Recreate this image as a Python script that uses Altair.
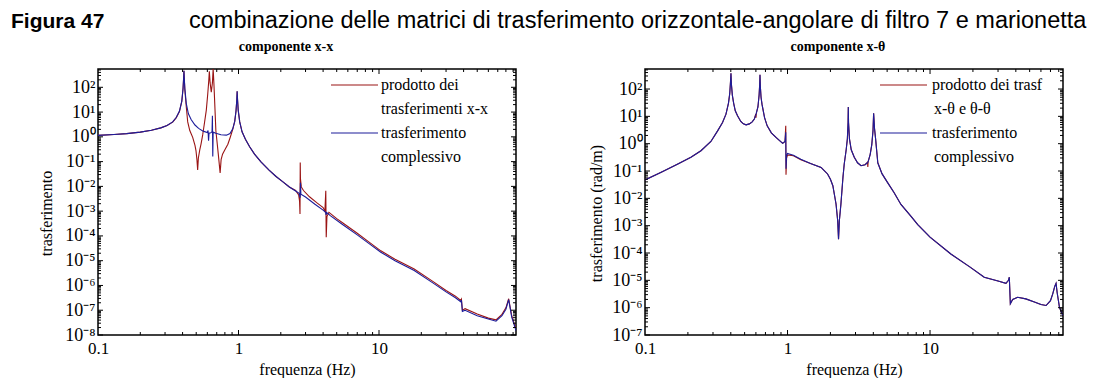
import altair as alt
import pandas as pd

# ---------------- data ----------------
# left panel: componente x-x
L_BLUE_F = [0.1, 0.13, 0.16, 0.2, 0.24, 0.28, 0.31, 0.34, 0.36, 0.38, 0.395, 0.403, 0.407, 0.409, 0.411,
            0.415, 0.425, 0.44, 0.46, 0.49, 0.52, 0.56, 0.6, 0.607, 0.612, 0.617, 0.635, 0.648, 0.652,
            0.656, 0.66, 0.69, 0.75, 0.82, 0.87, 0.91, 0.94, 0.96, 0.972, 0.978, 0.985, 0.995, 1.02,
            1.06, 1.12, 1.2, 1.3, 1.45, 1.65, 1.85, 2.05, 2.3, 2.55, 2.7, 2.745, 2.76, 2.78, 3.0, 3.5,
            4.0, 4.17, 4.2, 4.24, 4.5, 5.5, 7.0, 8.5, 10.3, 13, 17.8, 24, 30, 35, 38.2, 38.6, 39.2, 41,
            50, 60, 68, 75, 80, 83.7, 88, 94.4]
L_BLUE_V = [1.15, 1.25, 1.35, 1.55, 1.85, 2.3, 2.9, 4.0, 6.0, 11, 28, 90, 250, 470, 250,
            90, 22, 8.5, 5.0, 3.0, 2.2, 1.7, 1.5, 1.8, 0.7, 1.4, 1.45, 1.6, 7.1,
            0.16, 1.55, 1.4, 1.22, 1.17, 1.35, 2.1, 4.2, 11, 30, 69, 30, 12, 4,
            1.6, 0.8, 0.4, 0.2, 0.095, 0.045, 0.025, 0.016, 0.0095, 0.0065, 0.0052, 0.0035, 0.014, 0.0048, 0.0037, 0.0019,
            0.0011, 0.0009, 0.0007, 0.00088, 0.00066, 0.00029, 0.00011, 4.9e-5, 2.2e-5, 1.0e-5, 4.0e-6, 1.3e-6, 5.5e-7, 3.2e-7, 2.2e-7, 2.6e-7, 9e-8, 1.0e-7,
            6e-8, 4.4e-8, 3.6e-8, 6e-8, 1.1e-7, 2.7e-7, 5.3e-8, 1.5e-8]

L_RED_F = [0.1, 0.13, 0.16, 0.2, 0.24, 0.28, 0.31, 0.34, 0.36, 0.38, 0.395, 0.403, 0.407, 0.409, 0.411,
           0.415, 0.425, 0.435, 0.45, 0.472, 0.49, 0.498, 0.506, 0.512, 0.518, 0.53, 0.541, 0.556, 0.571,
           0.59, 0.604, 0.614, 0.62, 0.628, 0.64, 0.652, 0.66, 0.668, 0.678, 0.69, 0.705, 0.718, 0.74,
           0.752, 0.77, 0.8, 0.84, 0.87, 0.91, 0.94, 0.96, 0.972, 0.978, 0.985, 0.995, 1.02, 1.06, 1.12,
           1.2, 1.3, 1.45, 1.65, 1.85, 2.05, 2.3, 2.55, 2.68, 2.72, 2.74, 2.75, 2.76, 2.8, 2.9, 3.2, 3.6,
           4.0, 4.12, 4.18, 4.21, 4.26, 4.4, 5.0, 5.5, 7.0, 8.5, 10.3, 13, 17.8, 24, 30, 35, 38.2, 38.6,
           39.2, 41, 50, 60, 68, 75, 80, 83.7, 88, 94.4]
L_RED_V = [1.15, 1.25, 1.35, 1.55, 1.85, 2.3, 2.85, 3.9, 5.8, 10.5, 27, 90, 250, 470, 250,
           80, 16, 4, 1.8, 0.95, 0.45, 0.28, 0.12, 0.046, 0.14, 0.3, 0.51, 1.2, 3.3,
           12, 54, 180, 440, 150, 63, 150, 560, 150, 20, 1.8, 0.55, 0.2, 0.035,
           0.12, 0.2, 0.3, 0.5, 0.9, 2.0, 4.2, 11, 30, 69, 30, 12, 4, 1.6, 0.8,
           0.4, 0.2, 0.095, 0.045, 0.025, 0.016, 0.0095, 0.0068, 0.0045, 0.0025, 0.00077, 0.093, 0.02, 0.0095, 0.0068, 0.0038, 0.0022,
           0.0014, 0.001, 0.0067, 8.8e-5, 0.0006, 0.0009, 0.0005, 0.00034, 0.000128, 5.6e-5, 2.5e-5, 1.15e-5, 4.6e-6, 1.5e-6, 6.3e-7, 3.7e-7, 2.5e-7, 2.8e-7,
           1.0e-7, 1.15e-7, 7e-8, 4.8e-8, 4.1e-8, 6.8e-8, 1.25e-7, 2.9e-7, 6e-8, 1.7e-8]

# right panel: componente x-theta
R_BLUE_F = [0.1, 0.13, 0.17, 0.21, 0.247, 0.29, 0.324, 0.35, 0.37, 0.385, 0.393, 0.398, 0.401, 0.404,
            0.41, 0.419, 0.43, 0.446, 0.47, 0.49, 0.512, 0.54, 0.565, 0.585, 0.598, 0.601, 0.604, 0.62,
            0.632, 0.638, 0.641, 0.645, 0.652, 0.662, 0.69, 0.72, 0.77, 0.83, 0.88, 0.925, 0.96, 0.972,
            0.976, 0.985, 1.0, 1.03, 1.1, 1.24, 1.45, 1.72, 1.91, 2.0, 2.08, 2.19, 2.25, 2.28, 2.31,
            2.37, 2.45, 2.5, 2.58, 2.63, 2.66, 2.67, 2.68, 2.72, 2.8, 2.94, 3.1, 3.28, 3.5, 3.64, 3.66,
            3.68, 3.8, 3.9, 3.98, 4.02, 4.08, 4.15, 4.3, 4.6, 5.0, 5.6, 6.25, 7.36, 8.2, 10, 14, 19, 24,
            30, 34.1, 35.5, 36.0, 36.6, 38, 41.2, 47, 54, 60, 65.2, 70, 72.6, 75, 76.6, 78, 81, 85.7]
R_BLUE_V = [0.047, 0.09, 0.18, 0.32, 0.55, 1.2, 3.0, 6, 12, 30, 66, 180, 375, 150,
            60, 30, 16, 10.5, 6.5, 5.3, 4.9, 5.3, 6.3, 8, 11, 12, 13, 22,
            60, 150, 333, 120, 50, 28, 9, 4.5, 2.5, 1.7, 1.3, 1.03, 1.2, 2.6,
            0.12, 0.35, 0.44, 0.42, 0.38, 0.27, 0.19, 0.136, 0.078, 0.05, 0.029, 0.0062, 0.0015, 3.2e-4, 0.0015,
            0.0062, 0.06, 0.18, 0.6, 1.5, 6, 22, 6, 1.5, 0.6, 0.32, 0.2, 0.156, 0.17, 0.2, 0.21,
            0.22, 0.4, 0.9, 3.0, 12.9, 3.5, 1.5, 0.2, 0.08, 0.04, 0.016, 0.006, 0.0022, 0.0011, 3.8e-4, 9.2e-5, 3.1e-5, 1.3e-5,
            9.5e-6, 7.8e-6, 1.0e-5, 1.3e-5, 1.4e-6, 2.0e-6, 2.4e-6, 2.1e-6, 1.6e-6, 1.3e-6, 1.2e-6, 1.8e-6, 3.2e-6, 6e-6, 7.8e-6, 3.5e-6, 1.0e-6, 5.1e-7]

R_RED_F = R_BLUE_F
R_RED_V = [0.047, 0.09, 0.18, 0.32, 0.55, 1.2, 3.0, 6, 12, 30, 66, 180, 375, 150,
           60, 30, 16, 10.5, 6.5, 5.3, 4.9, 5.3, 6.3, 8, 12, 9, 13, 22,
           60, 150, 333, 120, 50, 28, 9, 4.5, 2.5, 1.7, 1.3, 1.03, 1.2, 4.5,
           0.073, 0.3, 0.38, 0.38, 0.36, 0.26, 0.19, 0.136, 0.078, 0.05, 0.029, 0.0062, 0.0015, 3.2e-4, 0.0015,
           0.0062, 0.06, 0.18, 0.6, 1.5, 6, 22, 6, 1.5, 0.6, 0.32, 0.2, 0.156, 0.17, 0.21, 0.14,
           0.22, 0.4, 0.9, 3.0, 12.9, 3.5, 1.5, 0.2, 0.08, 0.04, 0.016, 0.006, 0.0022, 0.0011, 3.8e-4, 9.2e-5, 3.1e-5, 1.3e-5,
           9.5e-6, 7.8e-6, 1.0e-5, 1.3e-5, 1.4e-6, 2.0e-6, 2.4e-6, 2.1e-6, 1.6e-6, 1.3e-6, 1.2e-6, 1.8e-6, 3.2e-6, 6e-6, 7.8e-6, 3.5e-6, 1.0e-6, 5.1e-7]

X_LABELS = [0.1, 1, 10]
X_MAJOR = [1, 10]
X_MINOR = [0.2, 0.3, 0.4, 0.5, 0.6, 0.7, 0.8, 0.9, 2, 3, 4, 5, 6, 7, 8, 9, 20, 30, 40, 50, 60, 70, 80, 90]
L_DECADES = [1e-8, 1e-7, 1e-6, 1e-5, 1e-4, 1e-3, 1e-2, 1e-1, 1, 10, 100]
R_DECADES = [1e-7, 1e-6, 1e-5, 1e-4, 1e-3, 1e-2, 1e-1, 1, 10, 100]
MINOR_MULT = [2, 3, 4, 5, 6, 7, 8, 9]

RED = "#9a1414"
BLUE = "#1c1c9a"
SERIF = "Liberation Serif"
SANS = "Liberation Sans"
W, H = 418, 266

SUP = "['⁻⁸','⁻⁷','⁻⁶','⁻⁵','⁻⁴','⁻³','⁻²','⁻¹','⁰','¹','²']"


def text(s, x, y, size, font=SERIF, weight="normal", align="left"):
    return alt.Chart(alt.Data(values=[{}])).mark_text(
        text=s, align=align, baseline="alphabetic", font=font, fontSize=size,
        fontWeight=weight, color="black").encode(x=alt.value(x), y=alt.value(y))


def hrule(x1, x2, y, color):
    return alt.Chart(alt.Data(values=[{}])).mark_rule(color=color, strokeWidth=1.2).encode(
        x=alt.value(x1), x2=alt.value(x2), y=alt.value(y))


def panel(red_f, red_v, blue_f, blue_v, xmax, ymin, ymax, decades, ytitle, titlex,
          subtitle, subx, legend_lines, legend_x):
    xs = alt.Scale(type="log", domain=[0.1, xmax])
    ys = alt.Scale(type="log", domain=[ymin, ymax])
    xaxis = alt.Axis(values=X_LABELS, labelExpr="datum.value + ''", title="frequenza (Hz)",
                     titleY=39, titleBaseline="alphabetic", labelPadding=5, labelFlush=False,
                     labelBaseline="top", labelOverlap=False)
    yaxis = alt.Axis(values=decades, labelExpr="'10' + " + SUP + "[round(log(datum.value)/LN10)+8]",
                     title=ytitle, titleX=titlex, titleY=144, titleAngle=270, titleAlign="center",
                     titleBaseline="alphabetic", labelPadding=3, labelFlush=False, labelOverlap=False,
                     labelFontSize=18)
    X = alt.X("f:Q", scale=xs, axis=xaxis)
    Y = alt.Y("v:Q", scale=ys, axis=yaxis)

    red = alt.Chart(pd.DataFrame({"f": red_f, "v": red_v})).mark_line(
        color=RED, strokeWidth=1.1, clip=True).encode(x=X, y=Y)
    blue = alt.Chart(pd.DataFrame({"f": blue_f, "v": blue_v})).mark_line(
        color=BLUE, strokeWidth=1.1, clip=True).encode(x=X, y=Y)

    layers = [red, blue]
    xmaj = pd.DataFrame({"f": X_MAJOR})
    xmin_ = pd.DataFrame({"f": [v for v in X_MINOR if v < xmax]})
    for df, ln in ((xmaj, 5), (xmin_, 3)):
        layers.append(alt.Chart(df).mark_rule(color="black", strokeWidth=1).encode(
            x=X, y=alt.value(H), y2=alt.value(H - ln)))
        layers.append(alt.Chart(df).mark_rule(color="black", strokeWidth=1).encode(
            x=X, y=alt.value(0), y2=alt.value(ln)))
    ymaj = pd.DataFrame({"v": decades})
    ymin_ = pd.DataFrame({"v": [d * m for d in decades for m in MINOR_MULT if d * m < ymax]})
    for df, ln in ((ymaj, 5), (ymin_, 3)):
        layers.append(alt.Chart(df).mark_rule(color="black", strokeWidth=1).encode(
            y=Y, x=alt.value(0), x2=alt.value(ln)))
        layers.append(alt.Chart(df).mark_rule(color="black", strokeWidth=1).encode(
            y=Y, x=alt.value(W), x2=alt.value(W - ln)))

    layers.append(text(subtitle, subx, -18, 14, weight="bold", align="center"))
    layers.append(hrule(legend_x[0], legend_x[1], 16, RED))
    layers.append(hrule(legend_x[0], legend_x[1], 64, BLUE))
    for s, x, y in legend_lines:
        layers.append(text(s, x, y, 16))
    return alt.layer(*layers).properties(width=W, height=H)


left = panel(L_RED_F, L_RED_V, L_BLUE_F, L_BLUE_V, 94.4, 1e-8, 548, L_DECADES,
             "trasferimento", -47, "componente x-x", 188,
             [("prodotto dei", 283, 21), ("trasferimenti x-x", 283, 45),
              ("trasferimento", 283, 69), ("complessivo", 283, 93)], (233, 280))
left = alt.layer(left,
                 text("Figura 47", -87, -41, 21, font=SANS, weight="bold"),
                 text("combinazione delle matrici di trasferimento orizzontale-angolare di filtro 7 e marionetta",
                      91, -41, 23.5, font=SANS))

right = panel(R_RED_F, R_RED_V, R_BLUE_F, R_BLUE_V, 85.7, 1e-7, 540, R_DECADES,
              "trasferimento (rad/m)", -44, "componente x-θ", 193,
              [("prodotto dei trasf", 287, 21), ("x-θ e θ-θ", 289, 45),
               ("trasferimento", 287, 69), ("complessivo", 289, 93)], (235, 282))

chart = alt.hconcat(left, right, spacing=129, bounds="flush").properties(
    padding={"left": 2, "top": 0, "right": 0, "bottom": 2}
).configure_view(stroke="black", strokeWidth=1.5).configure_axis(
    grid=False, domain=False, ticks=False, tickSize=0,
    labelFont=SERIF, labelFontSize=17, labelColor="black",
    titleFont=SERIF, titleFontSize=16, titleFontWeight="normal", titleColor="black"
)

chart.save("out.html", embed_options={"renderer": "svg", "actions": False})
